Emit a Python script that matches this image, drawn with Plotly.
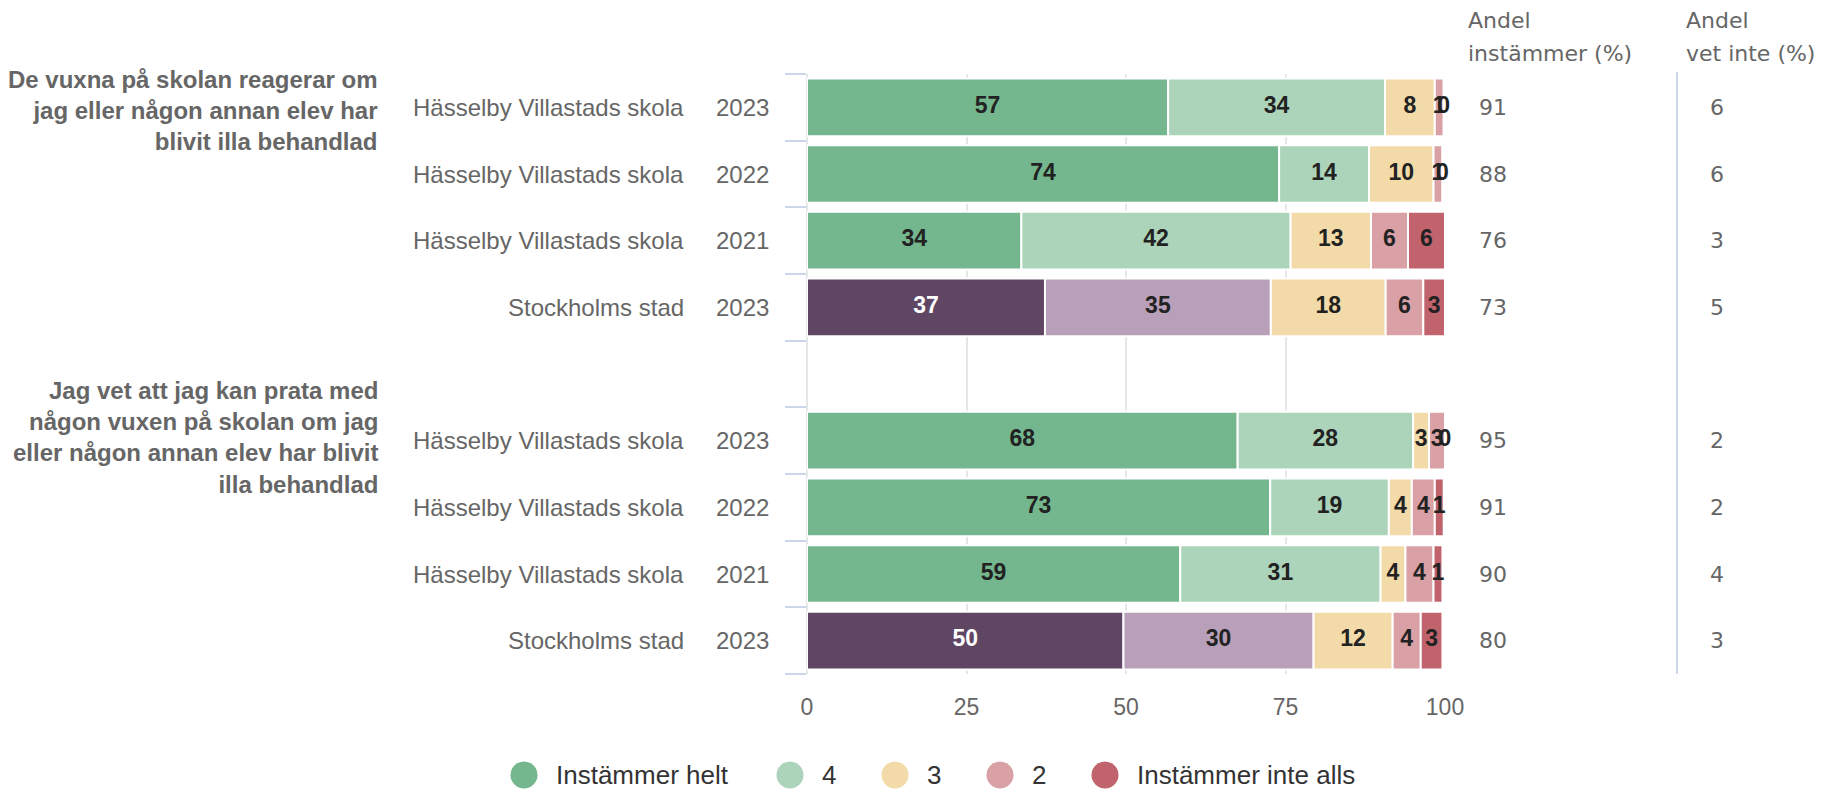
import numpy as np
import plotly.graph_objects as go

W, H = 1838, 790

# ---------------- data ----------------
questions = [
    "De vuxna på skolan reagerar om<br>jag eller någon annan elev har<br>blivit illa behandlad",
    "Jag vet att jag kan prata med<br>någon vuxen på skolan om jag<br>eller någon annan elev har blivit<br>illa behandlad",
]
units = ["Hässelby Villastads skola", "Hässelby Villastads skola", "Hässelby Villastads skola", "Stockholms stad",
         "Hässelby Villastads skola", "Hässelby Villastads skola", "Hässelby Villastads skola", "Stockholms stad"]
years = ["2023", "2022", "2021", "2023", "2023", "2022", "2021", "2023"]
question_of_row = [0, 0, 0, 0, 1, 1, 1, 1]

series_names = ["Instämmer helt", "4", "3", "2", "Instämmer inte alls"]
instammer_helt = [56.6, 74.0, 33.6, 37.3, 67.5, 72.6, 58.5, 49.6]
svar_4 = [34.0, 14.1, 42.2, 35.4, 27.5, 18.6, 31.4, 29.8]
svar_3 = [7.8, 10.1, 12.6, 18.0, 2.5, 3.6, 3.9, 12.4]
svar_2 = [1.4, 1.4, 5.8, 5.9, 2.5, 3.6, 4.4, 4.4]
instammer_inte_alls = [0.0, 0.0, 5.8, 3.4, 0.0, 1.4, 1.4, 3.4]

andel_instammer = [91, 88, 76, 73, 95, 91, 90, 80]
andel_vet_inte = [6, 6, 3, 5, 2, 2, 4, 3]

side_headers = [["Andel", "instämmer (%)"], ["Andel", "vet inte (%)"]]
x_ticks = [0, 25, 50, 75, 100]

# ---------------- styles ----------------
school_colors = ["#74b78f", "#acd4ba", "#f2dba8", "#d9a0a6", "#c1636c"]
city_colors = ["#5f4662", "#b9a0ba", "#f2dba8", "#d9a0a6", "#c1636c"]
LABEL_FONT = "Liberation Sans, Arial, Helvetica, sans-serif"
SIDE_FONT = "DejaVu Sans, Verdana, sans-serif"
GRAY = "#666666"

PLOT_L, PLOT_R, PLOT_T, PLOT_B = 807, 1445, 74, 674
title_yshift = [-3, 3]


def px(x):
    return x / W


def py(y):
    return 1 - y / H


# slot positions: one empty slot between the question groups
slots = [i + q for i, q in enumerate(question_of_row)]
n_slots = len(slots) + len(questions) - 1

series_values = [instammer_helt, svar_4, svar_3, svar_2, instammer_inte_alls]
is_city = [u == "Stockholms stad" for u in units]

fig = go.Figure()

base = np.zeros(len(slots))
label_x, label_y, label_t, label_c = [], [], [], []
for si, (name, vals) in enumerate(zip(series_names, series_values)):
    vals = np.array(vals, dtype=float)
    colors = [city_colors[si] if c else school_colors[si] for c in is_city]
    fig.add_trace(go.Bar(
        y=slots, x=vals, base=base.copy(), orientation="h", name=name,
        marker=dict(color=colors, line=dict(color="white", width=2)),
        showlegend=False, hoverinfo="x+name",
    ))
    mids = base + vals / 2
    for k in range(len(slots)):
        label_x.append(mids[k])
        label_y.append(slots[k])
        label_t.append(str(int(np.floor(vals[k] + 0.5))))
        label_c.append("#ffffff" if (is_city[k] and si == 0) else "#222222")
    base = base + vals

fig.add_trace(go.Scatter(
    x=label_x, y=label_y, text=label_t, mode="text",
    textfont=dict(family=LABEL_FONT, size=23, color=label_c, weight="bold"),
    textposition="middle center", cliponaxis=False, showlegend=False, hoverinfo="skip",
))

annotations = []
# row labels and side columns
for k, s in enumerate(slots):
    annotations.append(dict(xref="paper", yref="y", x=px(686), y=s, xanchor="right", yanchor="middle",
                            text=units[k], showarrow=False, font=dict(family=LABEL_FONT, size=24, color=GRAY)))
    annotations.append(dict(xref="paper", yref="y", x=px(771), y=s, xanchor="right", yanchor="middle",
                            text=years[k], showarrow=False, font=dict(family=LABEL_FONT, size=24, color=GRAY)))
    annotations.append(dict(xref="paper", yref="y", x=px(1477), y=s, xanchor="left", yanchor="middle",
                            text=str(andel_instammer[k]), showarrow=False,
                            font=dict(family=SIDE_FONT, size=22, color=GRAY)))
    annotations.append(dict(xref="paper", yref="y", x=px(1708), y=s, xanchor="left", yanchor="middle",
                            text=str(andel_vet_inte[k]), showarrow=False,
                            font=dict(family=SIDE_FONT, size=22, color=GRAY)))

# question titles
for qi, q in enumerate(questions):
    first_slot = slots[question_of_row.index(qi)]
    annotations.append(dict(xref="paper", yref="y", x=px(380), y=first_slot, xanchor="right", yanchor="middle",
                            align="right", text=q, showarrow=False, yshift=title_yshift[qi],
                            font=dict(family=LABEL_FONT, size=24, color=GRAY, weight="bold")))

# side headers (one annotation per line)
header_x = [1466, 1684]
header_line_y = [20, 53]
for hx, lines in zip(header_x, side_headers):
    for ly, line in zip(header_line_y, lines):
        annotations.append(dict(xref="paper", yref="paper", x=px(hx), y=py(ly), xanchor="left",
                                yanchor="middle", text=line, showarrow=False,
                                font=dict(family=SIDE_FONT, size=22, color=GRAY)))

shapes = [dict(type="line", xref="paper", yref="paper", x0=px(1677), x1=px(1677), y0=py(72), y1=py(PLOT_B),
               line=dict(color="#ccd6eb", width=2))]

# legend
legend_circle_x = [524, 790, 895, 1000, 1105]
legend_y = 775
for si, name in enumerate(series_names):
    cx = legend_circle_x[si]
    shapes.append(dict(type="circle", xref="paper", yref="paper", xsizemode="pixel", ysizemode="pixel",
                       xanchor=px(cx), yanchor=py(legend_y), x0=-13.5, x1=13.5, y0=-13.5, y1=13.5,
                       fillcolor=school_colors[si], line=dict(width=0)))
    annotations.append(dict(xref="paper", yref="paper", x=px(cx + 30), y=py(legend_y), xanchor="left",
                            yanchor="middle", text=name, showarrow=False,
                            font=dict(family=LABEL_FONT, size=26, color="#333333")))

fig.update_layout(
    width=W, height=H, autosize=False,
    margin=dict(l=0, r=0, t=0, b=0, autoexpand=False),
    paper_bgcolor="white", plot_bgcolor="white",
    barmode="overlay", bargap=0.135,
    xaxis=dict(domain=[px(PLOT_L), px(PLOT_R)], range=[0, 100], tickvals=x_ticks,
               showgrid=True, gridcolor="#e6e6e6", gridwidth=2, zeroline=True, zerolinecolor="#e6e6e6",
               zerolinewidth=2, showline=False, ticks="", ticklabelstandoff=17, automargin=False,
               tickfont=dict(family=LABEL_FONT, size=23, color=GRAY), fixedrange=True),
    yaxis=dict(domain=[py(PLOT_B), py(PLOT_T)], range=[n_slots - 0.5, -0.5],
               tickvals=[i - 0.5 for i in range(n_slots + 1)], ticktext=[""] * (n_slots + 1),
               ticks="outside", ticklen=21, tickwidth=2, tickcolor="#ccd6eb", automargin=False,
               showgrid=False, zeroline=False, showline=False, showticklabels=False, fixedrange=True),
    annotations=annotations, shapes=shapes,
)

fig.write_html(
    "out.html",
    config={"displayModeBar": False, "responsive": False},
    post_script=(
        "document.documentElement.style.overflow='hidden';"
        "document.body.style.margin='0';document.body.style.overflow='hidden';"
    ),
)
